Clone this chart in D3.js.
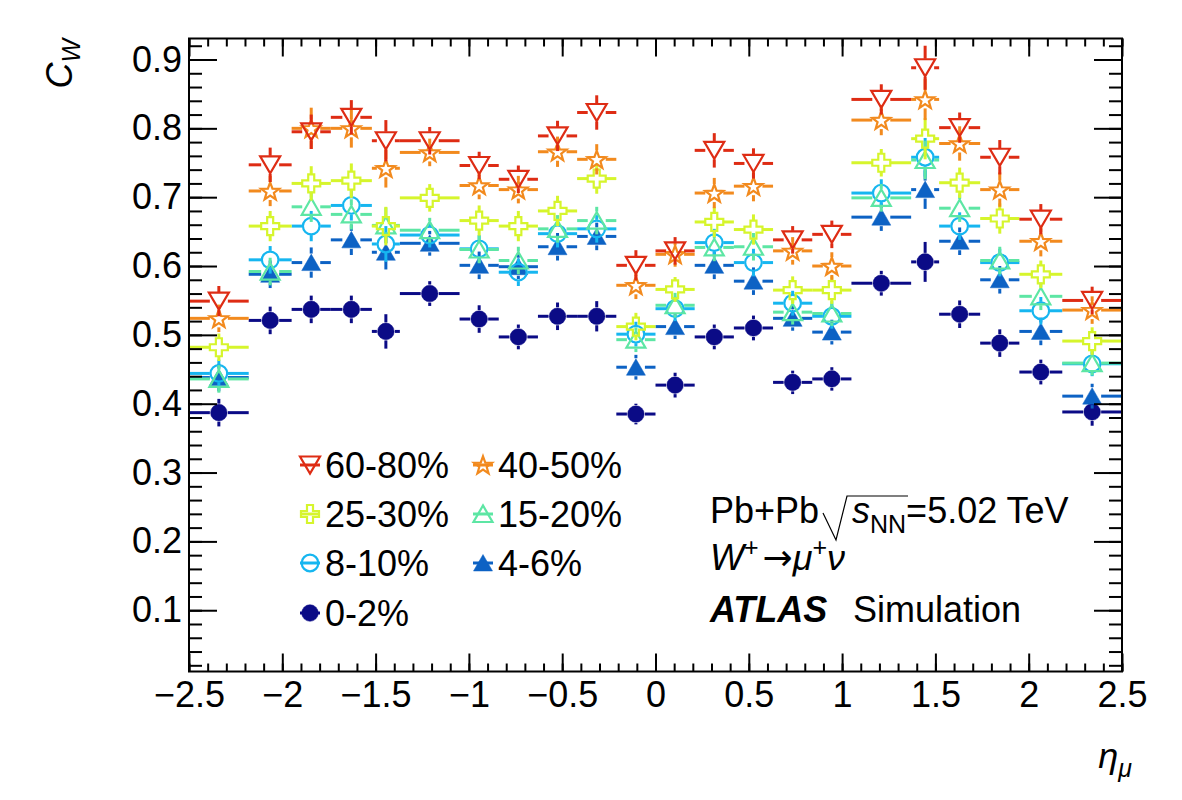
<!DOCTYPE html>
<html>
<head>
<meta charset="utf-8">
<script src="https://cdn.jsdelivr.net/npm/d3@7"></script>
<style>
  body { margin: 0; background: #fff; }
  text { font-family: "Liberation Sans", Arial, sans-serif; fill: #000; }
</style>
</head>
<body>
<svg id="chart" width="1182" height="800"></svg>
<script>
// Bin edges in eta.
const etaEdges = [-2.5, -2.18, -1.95, -1.74, -1.52, -1.37, -1.05, -0.84, -0.63, -0.42, -0.21, 0,
  0.21, 0.42, 0.63, 0.84, 1.05, 1.37, 1.52, 1.74, 1.95, 2.18, 2.5];

// C_W per centrality class.
const cw6080 = [0.549, 0.747, 0.795, 0.816, 0.782, 0.782, 0.746, 0.726, 0.789, 0.823, 0.601,
  0.622, 0.768, 0.749, 0.638, 0.646, 0.842, 0.888, 0.801, 0.758, 0.668, 0.550];
const cw4050 = [0.524, 0.709, 0.800, 0.800, 0.742, 0.765, 0.717, 0.711, 0.766, 0.755, 0.572,
  0.617, 0.706, 0.716, 0.622, 0.600, 0.812, 0.842, 0.778, 0.711, 0.636, 0.536];
const cw2530 = [0.482, 0.658, 0.720, 0.724, 0.658, 0.699, 0.666, 0.658, 0.680, 0.727, 0.512,
  0.566, 0.664, 0.653, 0.565, 0.565, 0.750, 0.785, 0.721, 0.669, 0.588, 0.491];
const cw1520 = [0.436, 0.592, 0.686, 0.675, 0.659, 0.652, 0.624, 0.608, 0.654, 0.666, 0.493,
  0.543, 0.627, 0.628, 0.533, 0.531, 0.699, 0.754, 0.684, 0.608, 0.556, 0.459];
const cw0810 = [0.444, 0.609, 0.658, 0.688, 0.632, 0.645, 0.625, 0.591, 0.647, 0.654, 0.501,
  0.538, 0.634, 0.605, 0.546, 0.527, 0.706, 0.758, 0.658, 0.605, 0.535, 0.458];
const cw0406 = [0.438, 0.588, 0.605, 0.638, 0.620, 0.633, 0.601, 0.599, 0.628, 0.643, 0.453,
  0.512, 0.601, 0.578, 0.524, 0.504, 0.671, 0.711, 0.636, 0.580, 0.505, 0.411];
const cw0002 = [0.387, 0.521, 0.537, 0.537, 0.505, 0.560, 0.523, 0.497, 0.527, 0.527, 0.385,
  0.427, 0.497, 0.510, 0.431, 0.436, 0.575, 0.606, 0.530, 0.488, 0.446, 0.388];

// Statistical uncertainties.
const err6080 = [0.022, 0.025, 0.025, 0.025, 0.030, 0.020, 0.020, 0.020, 0.022, 0.025, 0.022,
  0.020, 0.025, 0.022, 0.020, 0.020, 0.022, 0.032, 0.022, 0.025, 0.022, 0.020];
const err4050 = [0.020, 0.022, 0.030, 0.028, 0.028, 0.020, 0.020, 0.020, 0.022, 0.022, 0.020,
  0.018, 0.022, 0.022, 0.020, 0.020, 0.022, 0.030, 0.025, 0.025, 0.022, 0.020];
const err2530 = [0.020, 0.022, 0.025, 0.025, 0.028, 0.020, 0.022, 0.022, 0.022, 0.022, 0.020,
  0.018, 0.022, 0.022, 0.020, 0.020, 0.020, 0.030, 0.022, 0.022, 0.020, 0.020];
const err1520 = [0.020, 0.020, 0.022, 0.022, 0.026, 0.018, 0.020, 0.020, 0.020, 0.020, 0.018,
  0.018, 0.020, 0.020, 0.018, 0.018, 0.020, 0.028, 0.020, 0.020, 0.020, 0.018];
const err0810 = [0.020, 0.020, 0.022, 0.022, 0.026, 0.018, 0.020, 0.020, 0.020, 0.020, 0.018,
  0.018, 0.020, 0.020, 0.018, 0.018, 0.020, 0.028, 0.020, 0.020, 0.020, 0.018];
const err0406 = [0.020, 0.020, 0.022, 0.022, 0.025, 0.018, 0.020, 0.018, 0.020, 0.020, 0.018,
  0.018, 0.020, 0.020, 0.018, 0.018, 0.020, 0.028, 0.020, 0.020, 0.020, 0.018];
const err0002 = [0.020, 0.020, 0.020, 0.020, 0.025, 0.018, 0.020, 0.018, 0.020, 0.022, 0.015,
  0.018, 0.018, 0.018, 0.017, 0.017, 0.018, 0.029, 0.020, 0.020, 0.018, 0.020];

const centralityLabels = ['60-80%', '40-50%', '25-30%', '15-20%', '8-10%', '4-6%', '0-2%'];

const xTicks = [-2.5, -2, -1.5, -1, -0.5, 0, 0.5, 1, 1.5, 2, 2.5];
const yTicks = [0.1, 0.2, 0.3, 0.4, 0.5, 0.6, 0.7, 0.8, 0.9];

const series = [
  { label: centralityLabels[0], values: cw6080, errors: err6080, color: '#de2c14', marker: 'triDownOpen' },
  { label: centralityLabels[1], values: cw4050, errors: err4050, color: '#f28a1e', marker: 'starOpen' },
  { label: centralityLabels[2], values: cw2530, errors: err2530, color: '#d6f52c', marker: 'crossOpen' },
  { label: centralityLabels[3], values: cw1520, errors: err1520, color: '#5de6a4', marker: 'triUpOpen' },
  { label: centralityLabels[4], values: cw0810, errors: err0810, color: '#16b6f0', marker: 'circleOpen' },
  { label: centralityLabels[5], values: cw0406, errors: err0406, color: '#0d62c4', marker: 'triUpFull' },
  { label: centralityLabels[6], values: cw0002, errors: err0002, color: '#0b0b86', marker: 'circleFull' }
];

// Frame and scales.
const frame = { left: 189, right: 1122, top: 38.5, bottom: 671.5 };
const x = d3.scaleLinear().domain([-2.5, 2.5]).range([frame.left, frame.right]);
const y = d3.scaleLinear().domain([0.011, 0.9305]).range([frame.bottom, frame.top]);

const svg = d3.select('#chart');

// Marker shapes, centred on 0,0.
function markerPath(type) {
  switch (type) {
    case 'triDownOpen':
      return 'M-10,-8.5L10,-8.5L0,8.5Z';
    case 'triUpOpen':
    case 'triUpFull':
      return 'M-9.5,8L9.5,8L0,-8.5Z';
    case 'crossOpen':
      return 'M-3,-9H3V-3H9V3H3V9H-3V3H-9V-3H-3Z';
    case 'starOpen': {
      const pts = d3.range(10).map(i => {
        const r = i % 2 === 0 ? 9.5 : 3.9;
        const a = -Math.PI / 2 + (i * Math.PI) / 5;
        return [r * Math.cos(a), r * Math.sin(a) + 0.8];
      });
      return 'M' + pts.map(p => p.join(',')).join('L') + 'Z';
    }
    default:
      return d3.arc()({ innerRadius: 0, outerRadius: 8.3, startAngle: 0, endAngle: 2 * Math.PI });
  }
}

function isFilled(type) {
  return type === 'triUpFull' || type === 'circleFull';
}

function drawMarker(g, type, color, cx, cy) {
  g.append('path')
    .attr('d', markerPath(type))
    .attr('transform', `translate(${cx},${cy})`)
    .attr('fill', isFilled(type) ? color : 'none')
    .attr('stroke', color)
    .attr('stroke-width', isFilled(type) ? 0.5 : 2.2)
    .attr('stroke-linejoin', 'miter');
}

// Data points with error bars, gap around the marker.
const gap = 9;
const plot = svg.append('g').attr('class', 'points');

series.slice().reverse().forEach(s => {
  const g = plot.append('g').attr('class', 'series');
  s.values.forEach((v, i) => {
    const lo = x(etaEdges[i]);
    const hi = x(etaEdges[i + 1]);
    const cx = x((etaEdges[i] + etaEdges[i + 1]) / 2);
    const cy = y(v);
    const yTop = y(v + s.errors[i]);
    const yBot = y(v - s.errors[i]);
    const segs = [];
    if (cx - gap > lo) segs.push([lo, cy, cx - gap, cy]);
    if (hi > cx + gap) segs.push([cx + gap, cy, hi, cy]);
    if (cy - gap > yTop) segs.push([cx, yTop, cx, cy - gap]);
    if (yBot > cy + gap) segs.push([cx, cy + gap, cx, yBot]);
    segs.forEach(d => {
      g.append('line')
        .attr('x1', d[0]).attr('y1', d[1]).attr('x2', d[2]).attr('y2', d[3])
        .attr('stroke', s.color)
        .attr('stroke-width', 3);
    });
    drawMarker(g, s.marker, s.color, cx, cy);
  });
});

// Axes with ticks inside the frame, on all four sides.
const fmtX = d => (d < 0 ? '\u2212' + Math.abs(d) : String(d));
const fmtY = d3.format('.1f');
const xMinor = d3.range(-25, 26).map(d => d / 10);
const yMinor = d3.range(1, 47).map(d => d / 50).filter(d => d <= 0.93);

function styleAxis(g) {
  g.select('.domain').remove();
  g.selectAll('line').attr('stroke', '#000').attr('stroke-width', 2);
  g.selectAll('text').style('font-size', '36px');
}

svg.append('g')
  .attr('transform', `translate(0,${frame.bottom})`)
  .call(d3.axisBottom(x).tickValues(xTicks).tickSize(-18).tickPadding(10).tickFormat(fmtX))
  .call(styleAxis);
svg.append('g')
  .attr('transform', `translate(0,${frame.bottom})`)
  .call(d3.axisBottom(x).tickValues(xMinor).tickSize(-8).tickFormat(''))
  .call(styleAxis);
svg.append('g')
  .attr('transform', `translate(0,${frame.top})`)
  .call(d3.axisTop(x).tickValues(xTicks).tickSize(-18).tickFormat(''))
  .call(styleAxis);
svg.append('g')
  .attr('transform', `translate(0,${frame.top})`)
  .call(d3.axisTop(x).tickValues(xMinor).tickSize(-8).tickFormat(''))
  .call(styleAxis);

svg.append('g')
  .attr('transform', `translate(${frame.left},0)`)
  .call(d3.axisLeft(y).tickValues(yTicks).tickSize(-28).tickPadding(7).tickFormat(fmtY))
  .call(styleAxis);
svg.append('g')
  .attr('transform', `translate(${frame.left},0)`)
  .call(d3.axisLeft(y).tickValues(yMinor).tickSize(-13).tickFormat(''))
  .call(styleAxis);
svg.append('g')
  .attr('transform', `translate(${frame.right},0)`)
  .call(d3.axisRight(y).tickValues(yTicks).tickSize(-28).tickFormat(''))
  .call(styleAxis);
svg.append('g')
  .attr('transform', `translate(${frame.right},0)`)
  .call(d3.axisRight(y).tickValues(yMinor).tickSize(-13).tickFormat(''))
  .call(styleAxis);

svg.append('rect')
  .attr('x', frame.left).attr('y', frame.top)
  .attr('width', frame.right - frame.left).attr('height', frame.bottom - frame.top)
  .attr('fill', 'none').attr('stroke', '#000').attr('stroke-width', 2);

// Axis titles.
const yTitle = svg.append('text')
  .attr('transform', 'translate(72,39) rotate(-90)')
  .attr('text-anchor', 'end')
  .style('font-size', '36px');
yTitle.append('tspan').style('font-style', 'italic').text('C');
yTitle.append('tspan').style('font-style', 'italic').style('font-size', '25px').attr('dy', 8).text('W');

const xTitle = svg.append('text')
  .attr('x', 1132).attr('y', 768)
  .attr('text-anchor', 'end')
  .style('font-size', '36px');
xTitle.append('tspan').style('font-style', 'italic').text('\u03b7');
xTitle.append('tspan').style('font-style', 'italic').style('font-size', '25px').attr('dy', 9).text('\u03bc');

// Legend, two columns.
const legend = svg.append('g').attr('class', 'legend');
const legendCols = [310, 483];
const legendRows = [465, 514, 563, 613];
series.forEach((s, i) => {
  const cx = legendCols[i % 2];
  const cy = legendRows[Math.floor(i / 2)];
  legend.append('line')
    .attr('x1', cx - 10).attr('x2', cx + 10).attr('y1', cy).attr('y2', cy)
    .attr('stroke', s.color).attr('stroke-width', 3);
  drawMarker(legend, s.marker, s.color, cx, cy);
  legend.append('text')
    .attr('x', cx + 15).attr('y', cy + 12.5)
    .style('font-size', '36px')
    .text(s.label);
});

// Labels.
const info = svg.append('g').attr('class', 'info').style('font-size', '36px');
info.append('text').attr('x', 710).attr('y', 523).text('Pb+Pb');
info.append('path')
  .attr('d', 'M823,513L836,540L847,496L908,496')
  .attr('fill', 'none').attr('stroke', '#000').attr('stroke-width', 1.2);
const sNN = info.append('text').attr('x', 852).attr('y', 523);
sNN.append('tspan').style('font-style', 'italic').text('s');
sNN.append('tspan').style('font-size', '25px').attr('dy', 10).text('NN');
sNN.append('tspan').attr('dy', -10).text('=5.02 TeV');

const decay = info.append('text').attr('x', 710).attr('y', 570);
decay.append('tspan').style('font-style', 'italic').text('W');
decay.append('tspan').style('font-size', '25px').attr('dy', -14).text('+');
decay.append('tspan').attr('dy', 14).attr('dx', 4)
  .style('font-family', '"DejaVu Sans", sans-serif').text('\u2192');
decay.append('tspan').style('font-style', 'italic').text('\u03bc');
decay.append('tspan').style('font-size', '25px').attr('dy', -14).text('+');
decay.append('tspan').style('font-style', 'italic').attr('dy', 14).text('\u03bd');

info.append('text').attr('x', 710).attr('y', 622)
  .style('font-weight', 'bold').style('font-style', 'italic').text('ATLAS');
info.append('text').attr('x', 853).attr('y', 622).text('Simulation');
</script>
</body>
</html>
